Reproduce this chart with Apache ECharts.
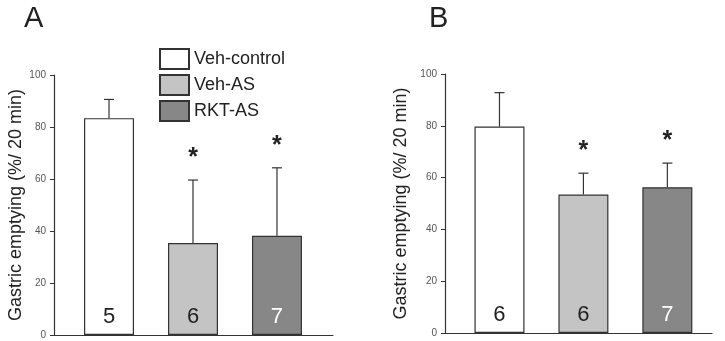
<!DOCTYPE html>
<html>
<head>
<meta charset="utf-8">
<script src="https://cdn.jsdelivr.net/npm/echarts@6/dist/echarts.min.js"></script>
<style>
  html, body { margin: 0; padding: 0; background: #fff; }
  #chart { width: 725px; height: 341px; }
</style>
</head>
<body>
<div id="chart"></div>
<script>
// groups shown in both panels
const groups = ['Veh-control', 'Veh-AS', 'RKT-AS'];
const groupColors = ['#ffffff', '#c4c4c4', '#878787'];
const labelColors = ['#222222', '#222222', '#ffffff'];

// panel A
const meanA = [83.4, 35.4, 38.2];
const semA = [7.2, 24.2, 26.1];
const nA = [5, 6, 7];
// panel B
const meanB = [79.7, 53.5, 56.3];
const semB = [13.1, 8.2, 9.3];
const nB = [6, 6, 7];

const significant = [false, true, true];
const yTicks = [0, 20, 40, 60, 80, 100];

const font = 'Liberation Sans, Arial, Helvetica, sans-serif';
const chart = echarts.init(document.getElementById('chart'));

function barSeries(gridIdx, means, ns) {
  return groups.map((g, i) => ({
    name: g,
    type: 'bar',
    xAxisIndex: gridIdx,
    yAxisIndex: gridIdx,
    barWidth: 50,
    barGap: '-100%',
    data: [[i + 1, means[i]]],
    itemStyle: { color: groupColors[i], borderColor: '#333', borderWidth: 1.2 },
    label: {
      show: true,
      position: 'insideBottom',
      distance: 7,
      formatter: () => String(ns[i]),
      fontSize: 22,
      fontFamily: font,
      color: labelColors[i]
    },
    z: 3
  }));
}

function errorSeries(gridIdx, means, sems) {
  return {
    type: 'custom',
    xAxisIndex: gridIdx,
    yAxisIndex: gridIdx,
    data: means.map((m, i) => [i + 1, m, m + sems[i]]),
    renderItem: (params, api) => {
      const base = api.coord([api.value(0), api.value(1)]);
      const top = api.coord([api.value(0), api.value(2)]);
      return {
        type: 'group',
        children: [
          { type: 'line', shape: { x1: base[0], y1: base[1], x2: top[0], y2: top[1] }, style: { stroke: '#333', lineWidth: 1.2 } },
          { type: 'line', shape: { x1: top[0] - 5, y1: top[1], x2: top[0] + 5, y2: top[1] }, style: { stroke: '#333', lineWidth: 1.2 } }
        ]
      };
    },
    z: 2
  };
}

function starSeries(gridIdx, means, sems) {
  return {
    type: 'custom',
    xAxisIndex: gridIdx,
    yAxisIndex: gridIdx,
    data: means.map((m, i) => [i + 1, m + sems[i]]).filter((d, i) => significant[i]),
    renderItem: (params, api) => {
      const p = api.coord([api.value(0), api.value(1)]);
      return {
        type: 'text',
        x: p[0],
        y: p[1] - 22,
        style: { text: '*', fontSize: 25, fontWeight: 'bold', fontFamily: font, fill: '#222', align: 'center', verticalAlign: 'middle' }
      };
    },
    z: 4
  };
}

function yAxis(gridIdx, gap) {
  return {
    type: 'value',
    gridIndex: gridIdx,
    min: yTicks[0],
    max: yTicks[yTicks.length - 1],
    interval: 20,
    name: 'Gastric emptying (%/ 20 min)',
    nameLocation: 'middle',
    nameRotate: 90,
    nameGap: gap,
    nameTextStyle: { fontSize: 18, fontFamily: font, color: '#222' },
    axisLine: { show: true, lineStyle: { color: '#333', width: 1.2 } },
    axisTick: { show: true, length: 4, lineStyle: { color: '#333' } },
    axisLabel: { fontSize: 10, fontFamily: font, color: '#555', margin: 8 },
    splitLine: { show: false }
  };
}

function xAxis(gridIdx, min, max) {
  return {
    type: 'value',
    gridIndex: gridIdx,
    min: min,
    max: max,
    axisLine: { show: true, onZero: false, lineStyle: { color: '#333', width: 1.2 } },
    axisTick: { show: false },
    axisLabel: { show: false },
    splitLine: { show: false }
  };
}

chart.setOption({
  animation: false,
  title: [
    { text: 'A', left: 24, top: 4, padding: 0, textStyle: { fontSize: 29, fontWeight: 'normal', fontFamily: font, color: '#222' } },
    { text: 'B', left: 429, top: 4, padding: 0, textStyle: { fontSize: 29, fontWeight: 'normal', fontFamily: font, color: '#222' } }
  ],
  legend: {
    data: groups,
    orient: 'vertical',
    left: 159,
    top: 48,
    padding: 0,
    itemWidth: 29,
    itemHeight: 20,
    itemGap: 4,
    icon: 'rect',
    textStyle: { fontSize: 18, fontFamily: font, color: '#222' },
    selectedMode: false
  },
  grid: [
    { left: 54, top: 75, width: 279, height: 260 },
    { left: 445, top: 74, width: 267, height: 259 }
  ],
  xAxis: [xAxis(0, 0.345, 3.667), xAxis(1, 0.351, 3.532)],
  yAxis: [yAxis(0, 22), yAxis(1, 35)],
  series: [
    ...barSeries(0, meanA, nA),
    errorSeries(0, meanA, semA),
    starSeries(0, meanA, semA),
    ...barSeries(1, meanB, nB),
    errorSeries(1, meanB, semB),
    starSeries(1, meanB, semB)
  ]
});
</script>
</body>
</html>
